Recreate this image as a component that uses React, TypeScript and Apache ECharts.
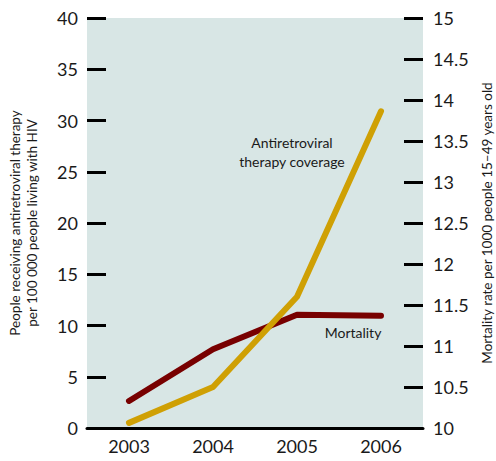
import React, { useEffect, useRef } from "react";
import * as echarts from "echarts";

const years = ["2003", "2004", "2005", "2006"];
const artCoverage = [0.5, 4.0, 12.8, 30.9];
const mortality = [10.33, 10.96, 11.38, 11.37];
const FONT = "Lato, 'Noto Sans', sans-serif";

export default function App() {
  const ref = useRef<HTMLDivElement>(null);
  useEffect(() => {
    const chart = echarts.init(ref.current!, null, { renderer: "svg" });
    chart.setOption({
      animation: false,
      textStyle: { fontFamily: FONT },
      grid: {
        left: 87,
        right: 73,
        top: 18,
        bottom: 33,
        show: true,
        backgroundColor: "#d8e6e5",
        borderWidth: 0,
        outerBoundsMode: "none",
        containLabel: false,
      },
      xAxis: {
        type: "category",
        data: years,
        boundaryGap: true,
        axisLine: { lineStyle: { color: "#000", width: 3 } },
        axisTick: { show: false },
        axisLabel: { color: "#1a1a1a", fontSize: 18, fontFamily: FONT, margin: 9 },
      },
      yAxis: [
        {
          type: "value",
          min: 0,
          max: 40,
          interval: 5,
          position: "left",
          name: "People receiving antiretroviral therapy\nper 100 000 people living with HIV",
          nameLocation: "middle",
          nameGap: 47,
          nameTextStyle: { color: "#1a1a1a", fontSize: 13.5, fontFamily: FONT, lineHeight: 17 },
          axisLine: { show: false },
          axisTick: { show: true, inside: true, length: 19, lineStyle: { color: "#000", width: 3 } },
          axisLabel: { color: "#1a1a1a", fontSize: 18, fontFamily: FONT, margin: 9 },
          splitLine: { show: false },
        },
        {
          type: "value",
          min: 10,
          max: 15,
          interval: 0.5,
          position: "right",
          name: "Mortality rate per 1000 people 15–49 years old",
          nameLocation: "middle",
          nameGap: 57,
          nameRotate: 90,
          nameTextStyle: { color: "#1a1a1a", fontSize: 13.5, fontFamily: FONT },
          axisLine: { show: false },
          axisTick: { show: true, inside: true, length: 19, lineStyle: { color: "#000", width: 3 } },
          axisLabel: { color: "#1a1a1a", fontSize: 18, fontFamily: FONT, margin: 10 },
          splitLine: { show: false },
        },
      ],
      series: [
        {
          name: "Mortality",
          type: "line",
          yAxisIndex: 1,
          data: mortality,
          symbol: "none",
          lineStyle: { color: "#780000", width: 6, cap: "round", join: "round" },
          z: 2,
        },
        {
          name: "Antiretroviral therapy coverage",
          type: "line",
          yAxisIndex: 0,
          data: artCoverage,
          symbol: "none",
          lineStyle: { color: "#cfa004", width: 6, cap: "round", join: "round" },
          z: 3,
        },
      ],
      graphic: [
        {
          type: "text",
          x: 292,
          y: 152,
          style: {
            text: "Antiretroviral\ntherapy coverage",
            align: "center",
            verticalAlign: "middle",
            fill: "#1a1a1a",
            font: `14px ${FONT}`,
            lineHeight: 19,
          },
        },
        {
          type: "text",
          x: 353,
          y: 332,
          style: {
            text: "Mortality",
            align: "center",
            verticalAlign: "middle",
            fill: "#1a1a1a",
            font: `14px ${FONT}`,
          },
        },
      ],
    });
    return () => chart.dispose();
  }, []);
  return <div ref={ref} style={{ width: 496, height: 461, position: "absolute", left: 0, top: 0 }} />;
}
